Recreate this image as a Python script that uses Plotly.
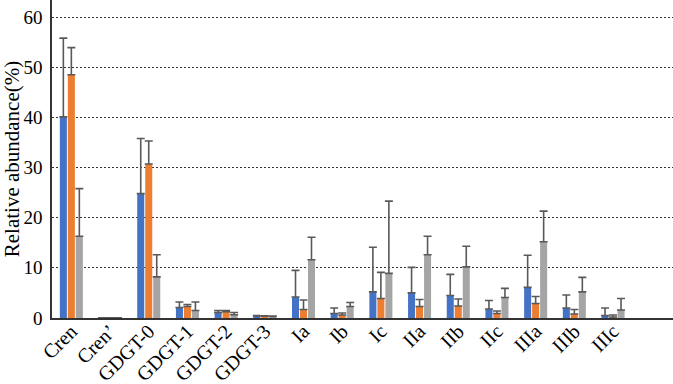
import plotly.graph_objects as go

categories = ["Cren", "Cren’", "GDGT-0", "GDGT-1", "GDGT-2", "GDGT-3", "Ia", "Ib", "Ic",
              "IIa", "IIb", "IIc", "IIIa", "IIIb", "IIIc"]
s1_vals = [40.1, 0.05, 24.8, 2.1, 1.1, 0.4, 4.2, 0.9, 5.2, 5.0, 4.5, 1.8, 6.1, 2.0, 0.5]
s1_err = [15.7, 0.0, 11.0, 1.1, 0.4, 0.1, 5.3, 1.1, 8.9, 5.1, 4.2, 1.7, 6.4, 2.6, 1.5]
s2_vals = [48.5, 0.05, 30.7, 2.3, 1.25, 0.35, 1.7, 0.6, 3.9, 2.3, 2.4, 0.9, 2.9, 0.8, 0.2]
s2_err = [5.4, 0.0, 4.6, 0.4, 0.25, 0.1, 1.9, 0.4, 5.2, 1.4, 1.4, 0.5, 1.4, 0.9, 0.4]
s3_vals = [16.3, 0.05, 8.2, 1.5, 0.65, 0.3, 11.6, 2.3, 8.9, 12.6, 10.2, 4.1, 15.2, 5.2, 1.6]
s3_err = [9.5, 0.0, 4.4, 1.7, 0.45, 0.1, 4.5, 0.8, 14.4, 3.7, 4.1, 1.8, 6.1, 2.9, 2.3]
y_ticks = [0, 10, 20, 30, 40, 50, 60]

colors = ["#4472C4", "#ED7D31", "#A5A5A5"]
err_color = "#595959"

fig = go.Figure()
for vals, errs, col in [(s1_vals, s1_err, colors[0]), (s2_vals, s2_err, colors[1]), (s3_vals, s3_err, colors[2])]:
    fig.add_trace(go.Bar(
        x=categories, y=vals, marker=dict(color=col, line=dict(width=0)),
        error_y=dict(type="data", array=errs, arrayminus=[0] * len(errs), symmetric=False,
                     color=err_color, thickness=1.6, width=4),
        showlegend=False,
    ))

serif = "Liberation Serif, Times New Roman, serif"
fig.update_layout(
    width=673, height=384,
    margin=dict(l=52, r=0, t=0, b=66),
    paper_bgcolor="white", plot_bgcolor="white",
    barmode="group", bargap=0.38, bargroupgap=0.12,
    font=dict(family=serif, color="#000000", size=18),
    xaxis=dict(
        range=[-0.5, 15.55], tickangle=-45, showline=True, linecolor="#333333", linewidth=1.5,
        showgrid=False, ticks="", automargin=False, ticklabelstandoff=-8,
        tickfont=dict(family=serif, size=20, color="#000"),
    ),
    yaxis=dict(
        range=[0, 63.4], tickvals=y_ticks, showline=True, linecolor="#333333", linewidth=1.5,
        showgrid=True, gridcolor="#333333", gridwidth=1, griddash="2px,2px", zeroline=False,
        ticks="", automargin=False, ticklabelstandoff=4,
        tickfont=dict(family=serif, size=19, color="#000"),
        title=dict(text="Relative abundance(%)", font=dict(family=serif, size=21, color="#000"), standoff=8),
    ),
)

fig.write_html("out.html", config={"displayModeBar": False},
               post_script="document.body.style.margin='0';document.body.style.overflow='hidden';")
